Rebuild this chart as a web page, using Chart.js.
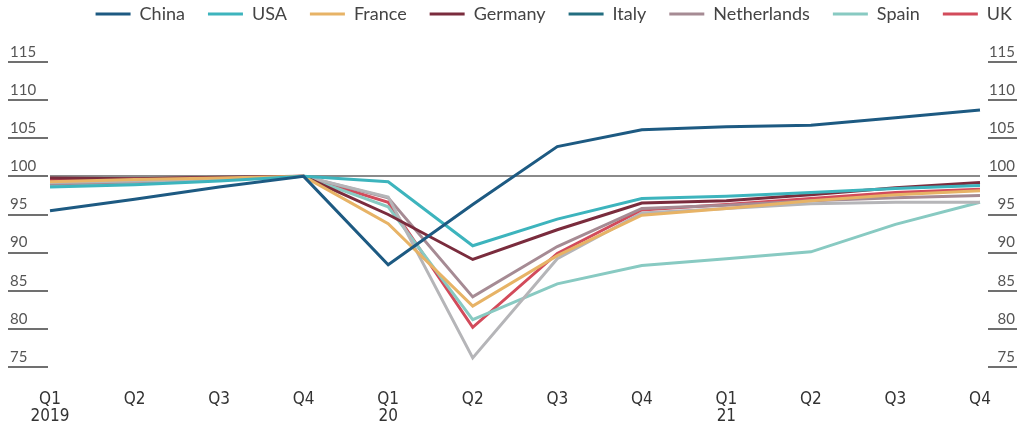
<!DOCTYPE html>
<html>
<head>
<meta charset="utf-8">
<script src="https://cdn.jsdelivr.net/npm/chart.js@4.4.1/dist/chart.umd.min.js"></script>
<style>
  html, body { margin: 0; padding: 0; background: #fff; }
  #wrap { width: 1023px; height: 430px; position: relative; }
</style>
</head>
<body>
<div id="wrap"><canvas id="gdpChart"></canvas></div>
<script>
// quarterly GDP index, Q4 2019 = 100
const quarters = [["Q1", "2019"], "Q2", "Q3", "Q4", ["Q1", "20"], "Q2", "Q3", "Q4", ["Q1", "21"], "Q2", "Q3", "Q4"];
const yMin = 75, yMax = 115, yStep = 5;

const china       = [95.5, 97.0, 98.6, 100, 88.4, 96.3, 103.9, 106.1, 106.5, 106.7, 107.7, 108.7];
const usa         = [98.6, 98.9, 99.4, 100, 99.3, 90.9, 94.4, 97.1, 97.4, 97.9, 98.4, 98.8];
const france      = [99.3, 99.6, 99.8, 100, 93.8, 83.0, 89.6, 94.9, 95.8, 96.8, 97.6, 98.1];
const germany     = [99.8, 99.7, 99.9, 100, 95.0, 89.1, 93.0, 96.5, 96.8, 97.6, 98.5, 99.2];
const italy       = [99.2, 99.4, 99.6, 100, 97.3, 76.2, 89.2, 95.2, 95.8, 96.4, 96.6, 96.6];
const netherlands = [99.0, 99.3, 99.6, 100, 97.2, 84.2, 90.8, 95.8, 96.2, 96.8, 97.2, 97.5];
const spain       = [98.8, 99.2, 99.6, 100, 96.0, 81.2, 85.9, 88.3, 89.2, 90.1, 93.7, 96.6];
const uk          = [99.6, 99.7, 99.8, 100, 96.6, 80.2, 89.9, 95.6, 96.3, 97.1, 97.9, 98.3];

// line colour, legend swatch colour
const line = (label, data, color, swatch) => ({
  label: label,
  data: data,
  borderColor: color,
  backgroundColor: swatch || color,
  borderWidth: 3,
  pointRadius: 0,
  tension: 0,
  fill: false
});

// short rule under every y tick label, like the original
const tickUnderline = {
  id: 'tickUnderline',
  afterDraw(chart) {
    const ctx = chart.ctx;
    ctx.save();
    ctx.strokeStyle = '#707070';
    ctx.lineWidth = 2;
    ['y', 'y2'].forEach(id => {
      const s = chart.scales[id];
      const x0 = id === 'y' ? s.left - 2 : s.left + 8;
      const x1 = id === 'y' ? s.right - 2 : s.right + 2;
      s.ticks.forEach(t => {
        const py = Math.round(s.getPixelForValue(t.value));
        ctx.beginPath();
        ctx.moveTo(x0, py);
        ctx.lineTo(x1, py);
        ctx.stroke();
      });
    });
    ctx.restore();
  }
};

// taller legend box, and the legend row sits a bit right of centre
const legendTweak = {
  id: 'legendTweak',
  beforeInit(chart) {
    const lg = chart.legend;
    const fit = lg.fit;
    lg.fit = function () {
      fit.bind(lg)();
      this.height = 80;
    };
    const draw = lg.draw;
    lg.draw = function () {
      this.ctx.save();
      this.ctx.translate(20, 0);
      draw.call(lg);
      this.ctx.restore();
    };
  }
};

const tickFont = { family: 'Lato, "Open Sans", sans-serif', size: 15 };

new Chart(document.getElementById('gdpChart'), {
  type: 'line',
  data: {
    labels: quarters,
    datasets: [
      line('China', china, '#1d5a82'),
      line('USA', usa, '#3db4bd'),
      line('France', france, '#e7b366'),
      line('Germany', germany, '#7a2c3d'),
      line('Italy', italy, '#b5b5b8', '#236e80'),
      line('Netherlands', netherlands, '#a68b94'),
      line('Spain', spain, '#88cac2'),
      line('UK', uk, '#d24b5b')
    ]
  },
  options: {
    responsive: true,
    maintainAspectRatio: false,
    animation: false,
    layout: { padding: { top: -18, left: 10, right: 8, bottom: 0 } },
    plugins: {
      tooltip: { enabled: false },
      legend: {
        position: 'top',
        align: 'end',
        labels: {
          boxWidth: 35,
          boxHeight: 3,
          padding: 23,
          color: '#444',
          font: { family: 'Lato, "Open Sans", sans-serif', size: 18 },
          generateLabels(chart) {
            return Chart.defaults.plugins.legend.labels.generateLabels(chart).map(l => {
              l.lineWidth = 0;
              l.strokeStyle = 'rgba(0,0,0,0)';
              return l;
            });
          }
        }
      }
    },
    scales: {
      x: {
        grid: { display: false, drawTicks: false },
        border: { display: false },
        ticks: {
          autoSkip: false,
          maxRotation: 0,
          padding: 24,
          color: '#333',
          font: { family: '"Liberation Sans Narrow", "DejaVu Sans Condensed", "Liberation Sans", sans-serif', size: 17, lineHeight: 1.0 }
        },
        afterFit(s) { s.height = 63; }
      },
      y: {
        position: 'left',
        min: yMin,
        max: yMax,
        border: { display: false },
        grid: {
          drawTicks: false,
          lineWidth: 2,
          color: c => (c.tick && c.tick.value === 100 ? '#8a8a8a' : 'rgba(0,0,0,0)')
        },
        ticks: {
          stepSize: yStep,
          crossAlign: 'far',
          labelOffset: -10,
          padding: 0,
          color: '#555',
          font: tickFont
        },
        afterFit(s) { s.width = 40; }
      },
      y2: {
        position: 'right',
        min: yMin,
        max: yMax,
        border: { display: false },
        grid: { display: false, drawTicks: false },
        ticks: {
          stepSize: yStep,
          crossAlign: 'far',
          labelOffset: -10,
          padding: 0,
          color: '#555',
          font: tickFont
        },
        afterFit(s) { s.width = 35; }
      }
    }
  },
  plugins: [tickUnderline, legendTweak]
});
</script>
</body>
</html>
